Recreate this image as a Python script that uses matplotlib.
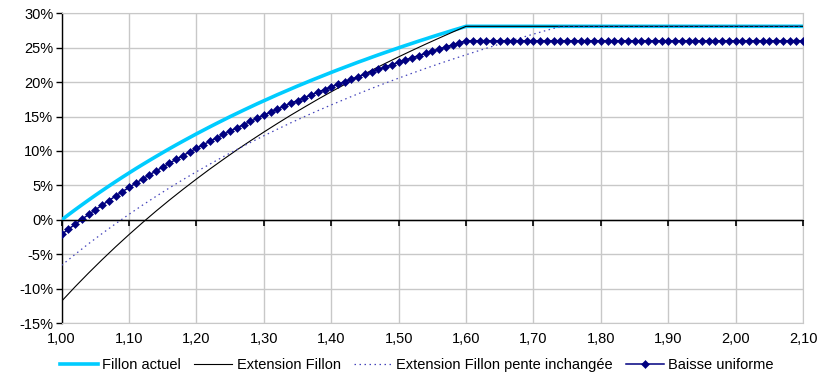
import numpy as np
import matplotlib
matplotlib.use('Agg')
import matplotlib.pyplot as plt
from matplotlib.ticker import FuncFormatter, MultipleLocator

# ============================================================
# Données (en % du salaire)
# ============================================================
# un point tous les 0,01 de 1,00 à 2,10
x_fin = [round(1.00 + 0.01 * i, 2) for i in range(111)]
fillon_actuel = [
    0.00, 0.74, 1.47, 2.18, 2.88, 3.57, 4.24, 4.90, 5.55, 6.19,
    6.81, 7.43, 8.03, 8.62, 9.20, 9.77, 10.34, 10.89, 11.43, 11.96,
    12.49, 13.00, 13.51, 14.01, 14.50, 14.99, 15.46, 15.93, 16.39, 16.85,
    17.29, 17.73, 18.17, 18.59, 19.01, 19.43, 19.83, 20.24, 20.63, 21.02,
    21.41, 21.79, 22.16, 22.53, 22.90, 23.25, 23.61, 23.96, 24.30, 24.64,
    24.98, 25.31, 25.63, 25.96, 26.27, 26.59, 26.90, 27.20, 27.51, 27.80,
    28.10,
] + [28.10] * 50
baisse_uniforme = [
    -2.10, -1.36, -0.63, 0.08, 0.78, 1.47, 2.14, 2.80, 3.45, 4.09,
    4.71, 5.33, 5.93, 6.52, 7.10, 7.67, 8.24, 8.79, 9.33, 9.86,
    10.39, 10.90, 11.41, 11.91, 12.40, 12.89, 13.36, 13.83, 14.29, 14.74,
    15.19, 15.63, 16.06, 16.49, 16.91, 17.33, 17.73, 18.14, 18.53, 18.92,
    19.31, 19.69, 20.06, 20.43, 20.80, 21.15, 21.51, 21.86, 22.20, 22.54,
    22.88, 23.21, 23.53, 23.86, 24.17, 24.49, 24.80, 25.10, 25.41, 25.70,
    26.00,
] + [26.00] * 50

# un point tous les 0,02
x_ext = [1.00, 1.02, 1.04, 1.06, 1.08, 1.10, 1.12, 1.14, 1.16, 1.18, 1.20, 1.22, 1.24, 1.26, 1.28,
         1.30, 1.32, 1.34, 1.36, 1.38, 1.40, 1.42, 1.44, 1.46, 1.48, 1.50, 1.52, 1.54, 1.56, 1.58,
         1.60, 2.10]
extension_fillon = [-11.80, -9.71, -7.71, -5.78, -3.92, -2.13, -0.40, 1.27, 2.88, 4.43, 5.93, 7.39,
                    8.79, 10.16, 11.47, 12.75, 13.99, 15.20, 16.36, 17.50, 18.60, 19.67, 20.71,
                    21.72, 22.71, 23.67, 24.60, 25.51, 26.39, 27.26, 28.10, 28.10]

x_pente = [1.00, 1.02, 1.04, 1.06, 1.08, 1.10, 1.12, 1.14, 1.16, 1.18, 1.20, 1.22, 1.24, 1.26, 1.28,
           1.30, 1.32, 1.34, 1.36, 1.38, 1.40, 1.42, 1.44, 1.46, 1.48, 1.50, 1.52, 1.54, 1.56, 1.58,
           1.60, 1.62, 1.64, 1.66, 1.68, 1.70, 1.72, 1.74, 2.10]
pente_inchangee = [-6.60, -5.00, -3.46, -1.99, -0.56, 0.81, 2.14, 3.41, 4.65, 5.84, 6.99, 8.10,
                   9.18, 10.22, 11.23, 12.21, 13.16, 14.09, 14.98, 15.85, 16.69, 17.51, 18.31,
                   19.09, 19.84, 20.58, 21.29, 21.99, 22.67, 23.33, 23.97, 24.60, 25.22, 25.82,
                   26.40, 26.97, 27.53, 28.07, 28.10]

# ============================================================
# Graphique
# ============================================================
plt.rcParams.update({'font.family': ['Liberation Sans', 'DejaVu Sans'], 'font.size': 10.5})
C_GRILLE = '#C8C8C8'

fig = plt.figure(figsize=(8.22, 3.78), dpi=100)
ax = fig.add_axes([0.075, 0.145, 0.902, 0.820])

ax.plot(x_fin, fillon_actuel, color='#00CCFF', linewidth=2.6, label='Fillon actuel', zorder=3)
ax.plot(x_ext, extension_fillon, color='black', linewidth=0.8, label='Extension Fillon', zorder=4)
ax.plot(x_pente, pente_inchangee, color='#4444BB', linewidth=0.9, linestyle=(0, (1.2, 2.8)),
        label='Extension Fillon pente inchangée', zorder=4)
ax.plot(x_fin, baisse_uniforme, color='#000080', linewidth=1.1, marker='D', markersize=3.8,
        markeredgewidth=0.4, label='Baisse uniforme', zorder=5)

ax.set_xlim(1.00, 2.10)
ax.set_ylim(-15, 30)
ax.xaxis.set_major_locator(MultipleLocator(0.1))
ax.yaxis.set_major_locator(MultipleLocator(5))
ax.xaxis.set_major_formatter(FuncFormatter(lambda v, p: f'{v:.2f}'.replace('.', ',')))
ax.yaxis.set_major_formatter(FuncFormatter(lambda v, p: f'{v:.0f}%'))

ax.grid(True, color=C_GRILLE, linewidth=1.0, zorder=0)
ax.set_axisbelow(True)
for side in ['top', 'right', 'bottom']:
    ax.spines[side].set_color(C_GRILLE)
ax.spines['left'].set_color('black')
ax.spines['left'].set_linewidth(1.0)
ax.tick_params(axis='x', length=0, pad=6)
ax.tick_params(axis='y', length=4, width=1.0, color='black', pad=2)

# axe horizontal à 0 %
ax.axhline(0, color='black', linewidth=1.0, zorder=2)
sec = ax.secondary_xaxis(15 / 45)
sec.set_zorder(6)
sec.xaxis.set_major_locator(MultipleLocator(0.1))
sec.tick_params(axis='x', direction='out', length=4, width=1.2, colors='black', labelbottom=False)
sec.spines['bottom'].set_color('black')

fig.legend(loc='center', bbox_to_anchor=(0.507, 0.034), ncol=4, frameon=False,
           handlelength=2.6, handletextpad=0.3, columnspacing=0.9)

plt.savefig('out.png', dpi=100)
